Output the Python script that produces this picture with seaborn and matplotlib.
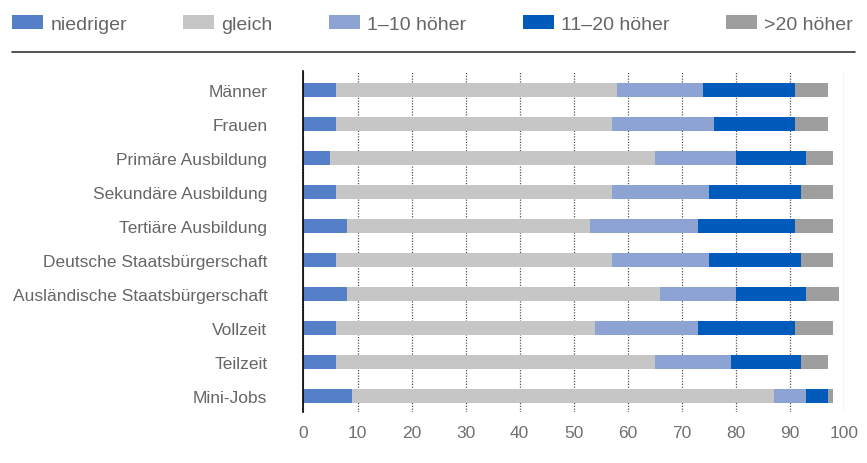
import numpy as np
import pandas as pd
import matplotlib
matplotlib.use("Agg")
import matplotlib.pyplot as plt
from matplotlib.patches import Patch
from matplotlib.lines import Line2D
import seaborn as sns

# Daten (Anteile in %)
categories = ["Männer", "Frauen", "Primäre Ausbildung", "Sekundäre Ausbildung",
              "Tertiäre Ausbildung", "Deutsche Staatsbürgerschaft",
              "Ausländische Staatsbürgerschaft", "Vollzeit", "Teilzeit", "Mini-Jobs"]
niedriger = [6, 6, 5, 6, 8, 6, 8, 6, 6, 9]
gleich = [52, 51, 60, 51, 45, 51, 58, 48, 59, 78]
hoeher_1_10 = [16, 19, 15, 18, 20, 18, 14, 19, 14, 6]
hoeher_11_20 = [17, 15, 13, 17, 18, 17, 13, 18, 13, 4]
hoeher_20 = [6, 6, 5, 6, 7, 6, 6, 7, 5, 1]

series_names = ["niedriger", "gleich", "1–10 höher", "11–20 höher", ">20 höher"]
colors = ["#5580C8", "#C5C6C5", "#8CA3D3", "#005BBB", "#9D9E9D"]
x_ticks = [0, 10, 20, 30, 40, 50, 60, 70, 80, 90, 100]

sns.set_theme(style="white")
plt.rcParams["font.family"] = ["Liberation Sans", "DejaVu Sans"]

df = pd.DataFrame({
    "Kategorie": categories,
    series_names[0]: niedriger,
    series_names[1]: gleich,
    series_names[2]: hoeher_1_10,
    series_names[3]: hoeher_11_20,
    series_names[4]: hoeher_20,
})
cum = df[series_names].cumsum(axis=1)

fig = plt.figure(figsize=(8.67, 4.64), dpi=100)
ax = fig.add_axes([0.350, 0.1093, 0.6235, 0.7349])

# gestapelte Balken: kumulierte Summen von hinten nach vorne zeichnen
for name, col in zip(reversed(series_names), reversed(colors)):
    sns.barplot(x=cum[name], y=df["Kategorie"], color=col, orient="h",
                width=0.41, saturation=1, linewidth=0, ax=ax, zorder=3)

ax.set_xlim(0, 100)
ax.set_ylim(9.48, -0.55)
ax.set_xticks(x_ticks)
ax.set_xlabel("")
ax.set_ylabel("")

ax.grid(axis="x", color="#555555", linestyle=(0, (1, 1.2)), linewidth=0.9, zorder=0)
ax.grid(axis="y", visible=False)
ax.set_axisbelow(True)
for s in ["top", "right", "bottom"]:
    ax.spines[s].set_visible(False)
ax.spines["left"].set_color("black")
ax.spines["left"].set_linewidth(1.2)
ax.spines["left"].set_zorder(4)

ax.tick_params(axis="y", length=0, pad=26, labelsize=12.5, labelcolor="#666666")
ax.tick_params(axis="x", length=0, pad=9, labelsize=12.5, labelcolor="#707070")

handles = [Patch(facecolor=c, edgecolor="none") for c in colors]
fig.legend(handles, series_names, loc="center left", bbox_to_anchor=(12 / 867, 0.946),
           ncol=5, frameon=False, fontsize=14, labelcolor="#666666",
           handlelength=1.59, handleheight=0.67, handletextpad=0.375,
           columnspacing=2.9, borderpad=0, borderaxespad=0)

fig.add_artist(Line2D([12 / 867, 855 / 867], [0.885, 0.885], color="#333333",
                      linewidth=1.2, transform=fig.transFigure))

plt.savefig("out.png", dpi=100)
plt.close()
